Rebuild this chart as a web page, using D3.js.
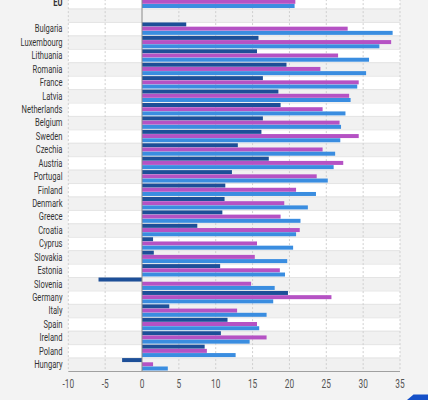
<!DOCTYPE html>
<html>
<head>
<meta charset="utf-8">
<script src="https://cdn.jsdelivr.net/npm/d3@7"></script>
<style>
  body { margin: 0; background: #f3f3f3; }
  svg { display: block; }
  text { font-family: Roboto, "Noto Sans", sans-serif; }
</style>
</head>
<body>
<div id="graph"></div>
<script>
// rows from top to bottom, "" is the empty spacer row under EU
var countries = ["EU", "", "Bulgaria", "Luxembourg", "Lithuania", "Romania", "France", "Latvia",
  "Netherlands", "Belgium", "Sweden", "Czechia", "Austria", "Portugal", "Finland", "Denmark",
  "Greece", "Croatia", "Cyprus", "Slovakia", "Estonia", "Slovenia", "Germany", "Italy",
  "Spain", "Ireland", "Poland", "Hungary"];

var serieDark = [12.0, null, 6.0, 15.8, 15.6, 19.6, 16.4, 18.5, 18.8, 16.4, 16.2, 13.0, 17.2, 12.2,
  11.3, 11.2, 10.9, 7.5, 1.5, 1.6, 10.6, -5.9, 19.8, 3.7, 11.6, 10.7, 8.5, -2.7];
var serieMagenta = [20.8, null, 27.9, 33.8, 26.6, 24.2, 29.4, 28.1, 24.5, 26.8, 29.4, 24.5, 27.3, 23.7,
  20.9, 19.3, 18.8, 21.4, 15.6, 15.3, 18.7, 14.8, 25.7, 12.9, 15.6, 16.9, 8.8, 1.5];
var serieLight = [20.7, null, 34.0, 32.2, 30.8, 30.4, 29.2, 28.3, 27.6, 27.0, 26.9, 26.2, 26.0, 25.2,
  23.6, 22.5, 21.5, 20.9, 20.5, 19.7, 19.4, 18.0, 17.8, 16.9, 15.9, 14.6, 12.7, 3.5];

var seriesNames = ["dark", "magenta", "light"];
var cores = { dark: "#1d4f98", magenta: "#b552c4", light: "#3a8de0" };
var ticks = [-10, -5, 0, 5, 10, 15, 20, 25, 30, 35];

var width = 428, height = 400;

var svg = d3.select('#graph').append('svg')
  .attr('width', width)
  .attr('height', height);

svg.append('rect').attr('width', width).attr('height', height).attr('fill', '#f3f3f3');

var x = d3.scaleLinear().domain([-10, 35]).range([68.3, 400]);
var y = d3.scaleBand().domain(countries.map(function (d, i) { return i; }))
  .range([-4.9, 371]);

var linhas = countries.map(function (c, i) {
  return { name: c, i: i, dark: serieDark[i], magenta: serieMagenta[i], light: serieLight[i] };
});

// faixas alternadas
svg.selectAll('.faixa').data(linhas).enter().append('rect')
  .attr('x', x(-10))
  .attr('y', function (d) { return y(d.i); })
  .attr('width', x(35) - x(-10))
  .attr('height', y.bandwidth())
  .attr('fill', function (d) { return d.i % 2 ? '#f1f1f1' : '#ffffff'; });

svg.selectAll('.sep').data(linhas).enter().append('line')
  .attr('x1', x(-10)).attr('x2', x(35))
  .attr('y1', function (d) { return y(d.i) + 0.5; })
  .attr('y2', function (d) { return y(d.i) + 0.5; })
  .attr('stroke', '#e4e4e4');

// grade
svg.selectAll('.grid').data(ticks.filter(function (t) { return t !== 0; })).enter().append('line')
  .attr('x1', function (d) { return x(d); }).attr('x2', function (d) { return x(d); })
  .attr('y1', y.range()[0]).attr('y2', 371)
  .attr('stroke', '#cfcfcf')
  .attr('stroke-dasharray', '2,2');

// barras
var sub = d3.scaleBand().domain(seriesNames).range([0, y.bandwidth()]).paddingOuter(0.12).paddingInner(0.05);

seriesNames.forEach(function (s) {
  svg.selectAll('.bar-' + s).data(linhas.filter(function (d) { return d[s] !== null; })).enter()
    .append('rect')
    .attr('x', function (d) { return x(Math.min(0, d[s])); })
    .attr('y', function (d) { return y(d.i) + sub(s); })
    .attr('width', function (d) { return Math.abs(x(d[s]) - x(0)); })
    .attr('height', sub.bandwidth())
    .attr('fill', cores[s]);
});

// linha zero e eixo
svg.append('line')
  .attr('x1', x(0)).attr('x2', x(0))
  .attr('y1', y.range()[0]).attr('y2', 371)
  .attr('stroke', '#8a8a8a');

svg.append('line')
  .attr('x1', x(-10)).attr('x2', x(35))
  .attr('y1', 371.5).attr('y2', 371.5)
  .attr('stroke', '#a0a0a0');

// fonte condensada: mede "Luxembourg" e achata o texto na horizontal
var tamLabel = 11.5;
var teste = svg.append('text').attr('font-size', tamLabel).text('Luxembourg');
var escala = 42 / teste.node().getComputedTextLength();
teste.remove();

svg.selectAll('.tick').data(ticks).enter().append('text')
  .attr('transform', function (d) { return 'translate(' + x(d) + ',388) scale(' + (escala * 1.05) + ',1)'; })
  .attr('text-anchor', 'middle')
  .attr('font-size', 12)
  .attr('fill', '#555')
  .text(function (d) { return d; });

// nomes dos paises
svg.selectAll('.label').data(linhas).enter().append('text')
  .attr('transform', function (d) {
    return 'translate(62.5,' + (y(d.i) + y.bandwidth() / 2) + ') scale(' + escala + ',1)';
  })
  .attr('dy', '0.33em')
  .attr('text-anchor', 'end')
  .attr('font-size', tamLabel)
  .attr('font-weight', function (d) { return d.name === 'EU' ? 'bold' : 'normal'; })
  .attr('fill', '#333')
  .text(function (d) { return d.name; });

// canto do logo
svg.append('path')
  .attr('d', 'M407,400 L413.5,394.5 L428,394.5 L428,400 Z')
  .attr('fill', '#1550c8');
</script>
</body>
</html>
